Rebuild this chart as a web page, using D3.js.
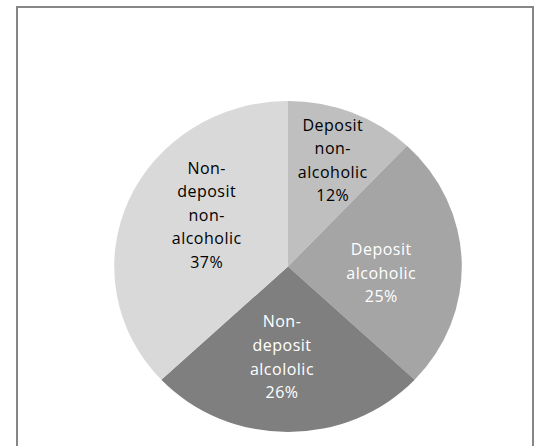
<!DOCTYPE html>
<html>
<head>
<meta charset="utf-8">
<script src="https://cdn.jsdelivr.net/npm/d3@7"></script>
<style>
  body { margin: 0; background: #fff; }
</style>
</head>
<body>
<div id="chart"></div>
<script>
// Slice data, clockwise from 12 o'clock
const categories = ["Deposit non-alcoholic", "Deposit alcoholic", "Non-deposit alcololic", "Non-deposit non-alcoholic"];
const shares = [12, 25, 26, 37];
const sliceColors = ["#bfbfbf", "#a5a5a5", "#7f7f7f", "#d9d9d9"];
const labelColors = ["#000000", "#ffffff", "#ffffff", "#000000"];

// Layout
const width = 538, height = 446;
const cx = 288, cy = 266.5;
const radius = 165.5, stretchX = 1.05;   // the pie in the picture is slightly wider than tall
const lineHeight = 23.6, capHeight = 11.4;
// small nudges of each label away from the arc centroid
const labelNudge = [[9, -20], [-4, 9.6], [-6, -2], [8, -14.7]];

const svg = d3.select("#chart")
    .append("svg")
    .attr("width", width)
    .attr("height", height);

// Chart border (the bottom edge lies below the window)
svg.append("rect")
    .attr("x", 17)
    .attr("y", 7)
    .attr("width", 516)
    .attr("height", 460)
    .attr("fill", "#fff")
    .attr("stroke", "#868686")
    .attr("stroke-width", 2);

const pie = d3.pie().sort(null).value(d => d);
const arcs = pie(shares);

const arc = d3.arc().innerRadius(0).outerRadius(radius);
const labelArc = d3.arc().innerRadius(radius * 0.56).outerRadius(radius * 0.56);

// Slices
svg.append("g")
    .attr("transform", `translate(${cx},${cy}) scale(${stretchX},1)`)
    .selectAll("path")
    .data(arcs)
    .enter()
    .append("path")
    .attr("d", arc)
    .attr("fill", (d, i) => sliceColors[i]);

// Wrap a name after spaces and hyphens, like the picture
const wrap = name => name.split(" ").flatMap(w => w.split(/(?<=-)/));

// Labels
const labels = svg.append("g")
    .attr("transform", `translate(${cx},${cy})`);

arcs.forEach((d, i) => {
    const [px, py] = labelArc.centroid(d);
    const x = px * stretchX + labelNudge[i][0];
    const yMid = py + labelNudge[i][1];
    const lines = wrap(categories[i]).concat([shares[i] + "%"]);
    const y0 = yMid - (lines.length - 1) * lineHeight / 2 + capHeight / 2;

    const text = labels.append("text")
        .attr("text-anchor", "middle")
        .attr("font-family", "Open Sans, sans-serif")
        .attr("font-size", 16)
        .attr("letter-spacing", 0.5)
        .attr("fill", labelColors[i]);

    lines.forEach((line, j) => {
        text.append("tspan")
            .attr("x", x)
            .attr("y", y0 + j * lineHeight)
            .text(line);
    });
});
</script>
</body>
</html>
